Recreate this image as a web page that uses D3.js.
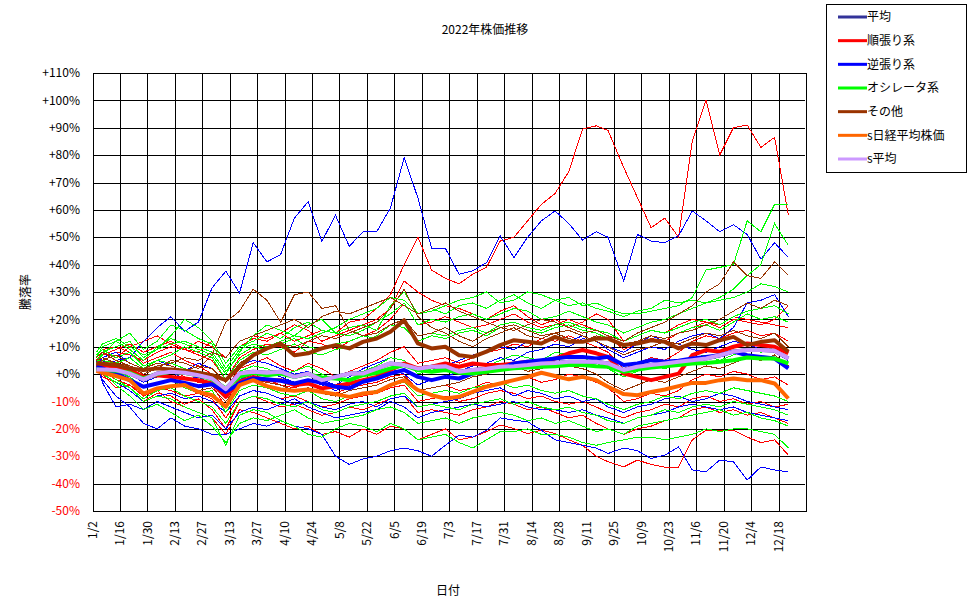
<!DOCTYPE html>
<html>
<head>
<meta charset="utf-8">
<script src="https://cdn.jsdelivr.net/npm/d3@7"></script>
<style>
  body { margin: 0; background: #fff; }
  svg text { font-family: "Noto Sans CJK JP", "DejaVu Sans", sans-serif; font-size: 12px; }
</style>
</head>
<body>
<svg id="chart"></svg>
<script>
// weekly sample dates (2022)
const dates = ["1/4","1/7","1/14","1/21","1/28","2/4","2/11","2/18","2/25","3/4","3/11","3/18","3/25",
  "4/1","4/8","4/15","4/22","4/29","5/6","5/13","5/20","5/27","6/3","6/10","6/17","6/24",
  "7/1","7/8","7/15","7/22","7/29","8/5","8/12","8/19","8/26","9/2","9/9","9/16","9/22","9/30",
  "10/7","10/14","10/21","10/28","11/4","11/11","11/18","11/25","12/2","12/9","12/16","12/23"];

const xTickLabels = ["1/2","1/16","1/30","2/13","2/27","3/13","3/27","4/10","4/24","5/8","5/22","6/5",
  "6/19","7/3","7/17","7/31","8/14","8/28","9/11","9/25","10/9","10/23","11/6","11/20","12/4","12/18"];
const yTicks = [-50,-40,-30,-20,-10,0,10,20,30,40,50,60,70,80,90,100,110];

// category averages (%)
const sAvg = [1.7,1.7,1.5,0.2,-1.9,0.2,0.9,0.5,-0.4,-1.6,-5.5,0.2,0.9,0.5,0.9,-1,0.2,-2.2,-1,0.2,0.2,2,3.9,3.3,2,2.7,2.9,
  0.9,1.5,2,2.7,2.9,3.3,3.9,4.1,4.5,4.5,4.5,3.9,1.5,2.7,3.3,3.9,4.5,5.1,5.7,6.9,8.2,8.8,8.8,8.5,5.7];
const avgAll = sAvg;
const trendAvg = [3.9,3.3,2.7,1.5,-1,-0.4,-1,-1.6,-2.2,-3.4,-8.3,-2.8,-1,-2.2,-2.2,-4,-3.4,-5.2,-4.4,-3.4,-2.2,-1,1.5,3.9,2.1,2.7,3.9,
  2.7,3.9,3.3,3.3,3.9,4.5,4.5,5.7,7.6,8.8,7.6,6.3,0.2,-1,-2.2,-1,0.2,6.9,8.8,8.2,10,11.2,10.6,10,7.6];
const contraAvg = [2.7,2.1,0.2,-2.2,-4.6,-3.4,-2.2,-3.2,-4.4,-3.7,-6.5,-3.4,-1.6,-1.9,-2.4,-3.4,-2.2,-3.2,-4.6,-5.2,-2.8,-1.6,0.2,1.5,-1,-2.2,-1,
  -1.6,0.2,0.9,2.1,3.9,4.5,5.1,5.7,6.3,6.3,5.7,6.3,3.3,3.9,5.1,4.5,4.9,5.7,6.3,6.9,8.2,6.9,6.3,5.7,2.1];
const oscAvg = [1.7,1.5,1.2,0.5,-1.6,0,0.9,0.5,-0.4,-1.9,-5.2,-1,0.5,-0.4,0.2,-1,0,-1.2,-1.6,-2.2,-0.4,0.5,2.1,3.3,1.5,0.9,1.5,
  0.5,0.2,0.9,1.5,2.1,2.4,2.7,2.9,3.3,3.3,2.9,2.7,0.9,1.7,2.4,2.9,3.3,3.9,4.1,4.5,5.1,6.1,5.7,5.7,3.9];
const otherAvg = [3.9,3.9,3.3,2.1,1.5,2.1,1.7,1.2,0.5,-0.4,-2.2,2.7,6.9,9.4,11.2,6.9,7.6,9.4,10.6,9.4,11.8,13,15.5,19.7,11.2,9.4,10,
  6.9,6.3,8.2,10.6,12.4,11.8,11.2,13.6,11.8,11.8,13,13,10.6,11.2,12.4,11.8,9.4,11.2,10.6,12.4,13.6,10.6,11.8,12.4,8.2];
const nikkei = [1.2,0.5,-0.7,-2.2,-7.1,-5.2,-4.4,-4,-6.5,-7.7,-11.9,-4,-2.2,-4.4,-5.6,-6.1,-5.6,-6.5,-7.3,-8.3,-7.1,-6.5,-4,-2.2,-5.8,-7.7,-8.9,
  -8.3,-6.5,-4.6,-3.4,-2.2,-1,0.5,-0.7,-1.9,-1,-2.2,-4.6,-7.3,-7.7,-6.5,-5.6,-4.4,-3.2,-3.2,-2.2,-1.6,-2.2,-2.2,-3.4,-8.9];

// individual strategies (%)
const trendLines = [
  [4,6,8,7,5,8,10,9,12,10,6,12,14,13,15,12,14,16,15,19,20,24,29,40,50,38,35,33,36.5,39,48.6,50,56,62,66,74,89.5,90.7,89,75.5,64.5,53.5,57,50,85,100,80,90,91,82.8,86.5,58],
  [3,0,-5,-4,-8,-6,-10,-12,-14,-16,-22,-13,-14,-16,-18,-20,-19,-22,-21,-23,-20,-22,-19,-20,-24,-22,-20,-24,-23,-21,-18.6,-19.9,-21.7,-20.5,-21.7,-24,-26,-30,-32,-33.9,-31.4,-33,-34,-34,-24,-20.5,-20.5,-20.5,-23,-25,-24,-29.6],
  [5,8,6,10,12,14,11,9,8,12,4,10,13,12,15,18,16,12,14,16,18,20,24,34,30,27,25,24,22,20,23,25,21,18,20,17,19,22,20,12,14,16,15,18,20,19,17,20,19,18,20,25],
  [7,9,10,8,4,6,8,5,3,0,-5,2,4,6,3,1,4,2,-1,1,3,5,8,10,4,5,6,4,6,8,9,11,10,13,12,14,12,10,8,2,4,6,5,8,12,14,13,15,16,14,15,12],
  [2,-1,-3,-6,-10,-7,-8,-11,-9,-13,-20,-10,-8,-10,-12,-11,-13,-15,-14,-12,-13,-11,-9,-8,-14,-13,-14,-15,-13,-12,-10,-11,-13,-12,-14,-16,-15,-18,-20,-22,-20,-19,-17,-16,-13,-12,-14,-13,-15,-14,-16,-18],
  [6,4,2,3,-2,0,2,-1,-3,-4,-12,-3,-1,-2,-4,-5,-3,-6,-7,-5,-4,-3,-1,0,-6,-5,-4,-6,-5,-3,-4,-2,-1,-3,-2,0,-1,-3,-5,-10,-9,-7,-8,-6,-2,0,-1,1,0,-2,-1,-4],
  [5,7,9,11,8,10,12,9,7,5,-2,6,9,11,10,8,12,11,9,12,14,16,20,26,18,19,21,19,17,18,20,22,19,17,18,20,18,16,14,9,11,13,12,15,17,19,18,21,20,19,18,17],
  [3,1,-2,-4,-7,-5,-6,-8,-7,-9,-16,-8,-6,-7,-9,-8,-10,-12,-11,-9,-8,-7,-5,-4,-10,-9,-8,-10,-9,-7,-6,-7,-9,-8,-10,-11,-10,-12,-14,-16,-14,-13,-11,-12,-9,-8,-10,-9,-11,-10,-12,-11]
];
const contraLines = [
  [3,2,5,6,12,17,21,15.6,19,31.5,37.6,29.6,48,41,43.7,57,63,48.5,58,46.7,52,52,60.7,79,64.4,46,46,36.5,37.7,40.7,50.5,42.6,50,56,59.6,55,49,52,50,34,51,48.6,48,50.5,59.6,56,52,54.6,51,42,48,42.6],
  [4,-2,-8,-12,-18,-20,-16,-19,-20,-22,-22,-20,-18,-19,-17,-19,-20,-22,-30,-33,-31,-30,-28,-27,-28,-30,-26,-22.3,-23,-20.5,-16,-16.8,-17.4,-20.5,-24,-25,-26,-27,-29,-27,-28,-30.8,-29.6,-26.6,-35,-35.7,-31.4,-32,-38.7,-33.9,-35,-35.7],
  [5,-3,-12,-11,-13,-10,-12,-14,-16,-15,-20,-14,-12,-13,-11,-9,-12,-14,-16,-15,-14,-13,-10,-12,-16,-14,-13,-12,-11,-12,-11,-10,-12,-13,-13,-14,-13,-15,-16,-18,-16,-15,-14,-12,-11,-12,-13,-12,-14,-15,-16,-17],
  [3,6,8,4,2,5,3,1,4,2,-3,3,5,4,2,0,1,-2,-4,-1,2,4,6,5,0,2,3,5,7,8,10,9,12,11,13,12,14,12,9,6,8,10,9,12,14,15,13,17,26,27,29,21],
  [2,0,-3,-6,-10,-8,-7,-9,-8,-10,-14,-8,-6,-7,-9,-11,-10,-12,-13,-11,-10,-12,-9,-8,-12,-11,-10,-9,-7,-6,-5,-8,-6,-7,-9,-8,-10,-9,-12,-14,-12,-11,-9,-8,-10,-9,-7,-8,-10,-11,-12,-13],
  [4,5,2,0,-3,-1,1,-2,-1,-4,-8,-2,0,1,-1,-3,-2,-4,-6,-4,-3,-1,2,0,-4,-2,-1,1,3,4,6,5,8,9,11,10,13,12,10,8,11,14,12,11,9,8,10,12,11,9,8,5]
];
const oscLines = [
  [5,2,-2,-5,-10,-8,-9,-12,-14,-16,-26,-15,-13,-14,-17,-19,-22,-23,-20,-18,-19,-21,-18,-20,-24,-23,-22,-25,-27,-24,-21,-21,-20,-22,-22,-23,-25,-26,-25,-24,-23,-23,-24,-23,-22,-20,-21,-20,-20,-21,-22,-27],
  [4,8,10,12,6,9,14,20,17,12,4,10,12,15,13,17,19,16,15,17,18,16,25,30,22,24,22,25,26,24,27,29,26,24,27,28,25,26,24,22,22,23,24,25,28,38,39,40,56,52,62,62],
  [6,10,12,9,5,10,13,11,9,7,0,8,14,18,16,14,18,20,15,14,16,19,22,26,18,20,19,21,22,20,22,24,23,20,21,23,21,19,18,15,17,19,20,22,24,26,28,31,36,40,55,47],
  [4,7,12,15,9,12,18,16,13,11,2,9,11,10,12,14,13,15,17,20,22,24,28,27,22,23,25,27,28,30,26,27,30,29,27,25,26,24,23,21,23,24,27,26,27,26,27,28,30,33,32,30],
  [3,5,4,6,2,5,7,10,8,6,-2,5,8,7,9,11,8,7,9,10,12,14,18,17,12,14,13,15,16,14,17,18,16,15,17,18,16,15,13,10,12,14,13,15,17,18,16,19,22,20,21,19],
  [2,0,-3,-5,-9,-6,-5,-8,-10,-12,-18,-10,-8,-9,-11,-12,-10,-13,-14,-12,-11,-10,-8,-7,-12,-11,-12,-13,-11,-10,-9,-11,-10,-12,-13,-12,-14,-15,-17,-18,-16,-15,-13,-14,-12,-11,-12,-10,-11,-12,-13,-15],
  [7,9,6,8,3,5,4,2,1,0,-6,1,3,2,0,1,3,0,-2,0,1,3,6,5,0,2,1,3,4,3,5,7,6,5,8,7,6,4,2,-1,1,3,2,4,6,7,5,7,9,8,10,8],
  [4,1,-4,-8,-13,-11,-14,-17,-15,-19,-25,-18,-16,-17,-15,-13,-16,-18,-17,-16,-15,-13,-12,-14,-18,-17,-16,-18,-16,-15,-14,-15,-17,-16,-18,-17,-19,-21,-20,-22,-19,-18,-17,-16,-15,-14,-13,-15,-14,-16,-17,-19],
  [6,4,1,-1,-5,-3,-2,-5,-7,-6,-14,-6,-4,-5,-7,-8,-6,-9,-10,-8,-7,-6,-4,-3,-8,-7,-6,-7,-5,-4,-3,-5,-4,-6,-7,-6,-8,-9,-11,-13,-11,-10,-8,-9,-7,-6,-7,-5,-6,-7,-8,-10],
  [8,11,13,10,7,9,11,12,10,8,1,7,10,9,11,13,10,9,11,12,14,13,16,20,14,15,14,16,17,15,18,19,17,16,18,19,17,16,15,12,14,16,15,17,19,20,18,21,23,24,25,22]
];
const otherLines = [
  [6,8,5,3,0,2,5,4,2,7,19,23,31,27,19,29,30,24,25,16,14,15,18,20,14,15,17,14,12,15,17,16,18,20,19,17,15,16,14,12,15,17,19,22,25,30,33,41,36,35,41,36],
  [4,5,7,4,2,4,3,1,3,2,-3,4,7,9,11,10,12,14,13,15,17,19,24,31,21,17,15,12,10,13,15,17,14,13,15,16,14,12,10,7,9,10,12,11,13,15,14,16,14,13,15,10],
  [3,2,0,-2,-5,-3,-2,-4,-6,-5,-10,-4,-2,-3,-4,-6,-5,-7,-8,-6,-5,-4,-2,-1,-6,-5,-4,-3,-1,0,2,3,1,2,4,3,2,0,-3,-6,-4,-2,-3,-1,1,3,2,4,6,5,7,3],
  [5,6,4,3,1,3,4,6,5,8,6,12,14,16,18,20,17,21,23,22,24,26,28,25,22,24,26,23,21,19,17,18,16,14,15,13,12,14,13,11,12,14,13,15,16,18,20,23,26,24,27,25]
];

const legendNames = ["平均","順張り系","逆張り系","オシレータ系","その他","s日経平均株価","s平均"];
const legendColors = ["#333399","#ff0000","#0000ff","#00ff00","#993300","#ff6600","#cc99ff"];

const width = 970, height = 604;
const svg = d3.select("#chart").attr("width", width).attr("height", height);

const parse = d3.timeParse("%Y/%m/%d");
const toDate = s => parse("2022/" + s);
const days = dates.map(toDate);

const x = d3.scaleTime()
  .domain([new Date(2022, 0, 2), new Date(2022, 11, 31, 12)])
  .range([92.5, 805]);
const y = d3.scaleLinear().domain([-50, 110]).range([511, 73]);

// grid
const grid = svg.append("g").attr("shape-rendering", "crispEdges");
grid.selectAll(".hg").data(yTicks).enter().append("line")
  .attr("x1", x.range()[0]).attr("x2", x.range()[1])
  .attr("y1", d => Math.round(y(d)) + 0.5).attr("y2", d => Math.round(y(d)) + 0.5)
  .attr("stroke", "#000");
grid.selectAll(".vg").data(xTickLabels).enter().append("line")
  .attr("x1", d => Math.round(x(toDate(d))) + 0.5).attr("x2", d => Math.round(x(toDate(d))) + 0.5)
  .attr("y1", y(110)).attr("y2", y(-50))
  .attr("stroke", "#000");
grid.append("rect")
  .attr("x", Math.round(x.range()[0]) + 0.5).attr("y", Math.round(y(110)) + 0.5)
  .attr("width", Math.round(x.range()[1] - x.range()[0]))
  .attr("height", Math.round(y(-50) - y(110)))
  .attr("fill", "none").attr("stroke", "#000");

// y labels
svg.selectAll(".yl").data(yTicks).enter().append("text")
  .attr("x", 80).attr("y", d => y(d)).attr("dy", "0.35em")
  .attr("text-anchor", "end")
  .attr("fill", d => d < 0 ? "#ff0000" : "#000")
  .text(d => (d >= 0 ? "+" : "") + d + "%");

// x labels
svg.selectAll(".xl").data(xTickLabels).enter().append("text")
  .attr("transform", d => `translate(${x(toDate(d))},${y(-50) + 10}) rotate(-90)`)
  .attr("text-anchor", "end").attr("dy", "0.35em")
  .text(d => d);

const line = d3.line().x((d, i) => x(days[i])).y(d => y(d));

// thin lines
const thin = svg.append("g").attr("fill", "none").attr("stroke-width", 1).attr("shape-rendering", "crispEdges");
const groups = [[trendLines, "#ff0000"], [contraLines, "#0000ff"], [oscLines, "#00ff00"], [otherLines, "#993300"]];
groups.forEach(([arr, col]) => {
  thin.selectAll(null).data(arr).enter().append("path")
    .attr("d", line).attr("stroke", col);
});

// thick lines
const thick = [
  [avgAll, "#333399"], [trendAvg, "#ff0000"], [contraAvg, "#0000ff"], [oscAvg, "#00ff00"],
  [otherAvg, "#993300"], [nikkei, "#ff6600"], [sAvg, "#cc99ff"]
];
svg.append("g").attr("fill", "none").selectAll("path").data(thick).enter().append("path")
  .attr("d", d => line(d[0]))
  .attr("stroke", d => d[1])
  .attr("stroke-width", 4)
  .attr("stroke-linejoin", "round");

// titles
svg.append("text").attr("x", 485).attr("y", 34).attr("text-anchor", "middle").text("2022年株価推移");
svg.append("text").attr("x", 448).attr("y", 595).attr("text-anchor", "middle").text("日付");
svg.append("text").attr("transform", "translate(30,292) rotate(-90)").attr("text-anchor", "middle").text("騰落率");

// legend
const lg = svg.append("g");
lg.append("rect").attr("x", 826.5).attr("y", 4.5).attr("width", 140).attr("height", 168)
  .attr("fill", "#fff").attr("stroke", "#000").attr("shape-rendering", "crispEdges");
const rowY = d3.scaleLinear().domain([0, 6]).range([17, 159]);
legendNames.forEach((name, i) => {
  lg.append("line").attr("x1", 838).attr("x2", 867)
    .attr("y1", rowY(i)).attr("y2", rowY(i))
    .attr("stroke", legendColors[i]).attr("stroke-width", 3);
  lg.append("text").attr("x", 867).attr("y", rowY(i)).attr("dy", "0.35em").text(name);
});
</script>
</body>
</html>
